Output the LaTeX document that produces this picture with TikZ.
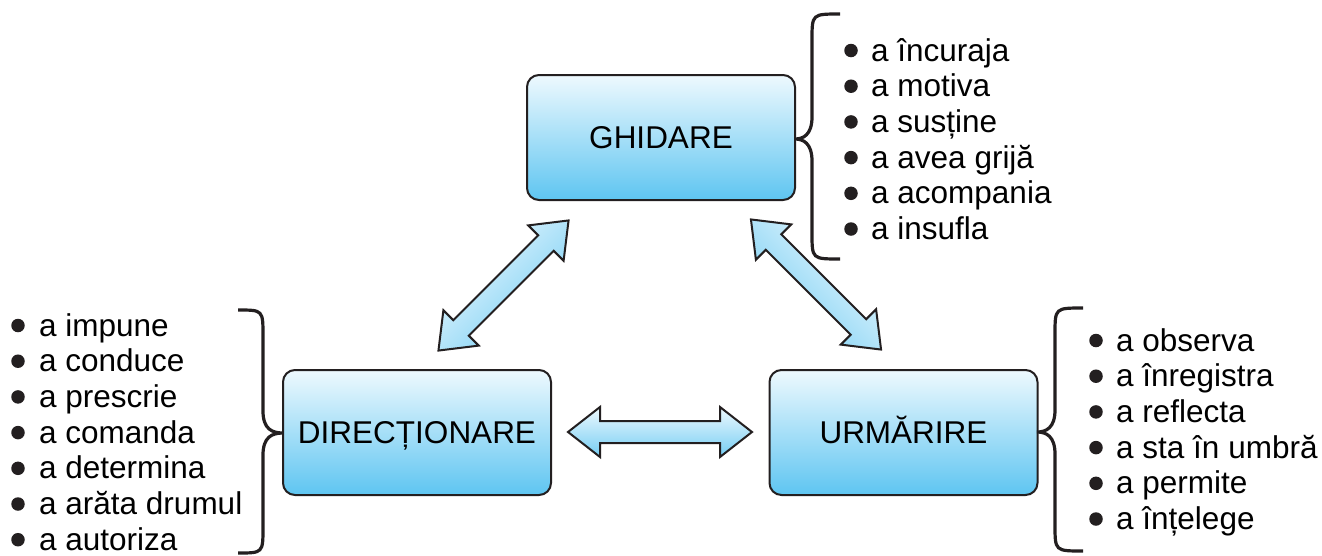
\documentclass[tikz,border=0pt]{standalone}
\usepackage{fontspec}
\setmainfont{Liberation Sans}
\usetikzlibrary{calc}

\definecolor{ink}{HTML}{231F20}
\definecolor{paleblue}{HTML}{EEF9FE}
\definecolor{skyblue}{HTML}{5EC5F1}
\definecolor{arrowblue}{HTML}{74CDF3}

\tikzset{
  labelfont/.style={font=\fontsize{31.5}{36}\selectfont},
  role/.style={labelfont, draw=ink, line width=2pt, rounded corners=12pt,
    minimum width=268pt, minimum height=125pt, inner sep=0pt,
    text height=22.5pt, text depth=0pt,
    top color=paleblue, bottom color=skyblue},
  item/.style={labelfont, anchor=base west, inner sep=0pt},
  dot/.style={circle, fill=ink, draw=none, minimum size=13.5pt, inner sep=0pt},
  brace/.style={draw=ink, line width=3.2pt},
  blockarrow/.style={draw=ink, line width=2pt, line join=miter,
    top color=paleblue, bottom color=arrowblue}
}

% double-headed block arrow: #1 centre, #2 direction, #3 shading angle
\newcommand\twoway[3]{%
  \path[blockarrow, shading angle=#3]
    ($(#1)+(#2:92)$)
    -- ($(#1)+(#2:60)+(#2+90:25)$)
    -- ($(#1)+(#2:60)+(#2+90:11)$)
    -- ($(#1)+(#2+180:60)+(#2+90:11)$)
    -- ($(#1)+(#2+180:60)+(#2+90:25)$)
    -- ($(#1)+(#2+180:92)$)
    -- ($(#1)+(#2+180:60)+(#2-90:25)$)
    -- ($(#1)+(#2+180:60)+(#2-90:11)$)
    -- ($(#1)+(#2:60)+(#2-90:11)$)
    -- ($(#1)+(#2:60)+(#2-90:25)$)
    -- cycle;}

\begin{document}
\begin{tikzpicture}[x=1pt, y=-1pt]
\useasboundingbox (0,0) rectangle (1322,555);

% the three roles
\node[role] (ghid) at (661,137.5) {GHIDARE};
\node[role] (dir)  at (417,432.5) {DIRECȚIONARE};
\node[role] (urm)  at (903.5,432.5) {URMĂRIRE};

% two-way arrows between the roles
\coordinate (dg) at (503.5,285.5);
\coordinate (gu) at (816,284.5);
\coordinate (du) at (660,432);
\twoway{dg}{-45}{45}
\twoway{gu}{45}{-45}
\twoway{du}{0}{0}

% braces gathering the verbs of each role
\draw[brace] (840,14) .. controls (812,14) .. (812,40) -- (812,117)
  .. controls (812,135) and (803,139) .. (795,139)
  .. controls (803,139) and (812,143) .. (812,161) -- (812,233)
  .. controls (812,259) .. (840,259);
\draw[brace] (238,310) .. controls (263,310) .. (263,336) -- (263,411)
  .. controls (263,429) and (272,433) .. (283,433)
  .. controls (272,433) and (263,437) .. (263,455) -- (263,527)
  .. controls (263,553) .. (238,553);
\draw[brace] (1083,308) .. controls (1055,308) .. (1055,334) -- (1055,410)
  .. controls (1055,428) and (1046,432) .. (1037,432)
  .. controls (1046,432) and (1055,436) .. (1055,454) -- (1055,525)
  .. controls (1055,551) .. (1083,551);

% verb lists
\foreach \t [count=\i] in {a încuraja, a motiva, a susține, a avea grijă, a acompania, a insufla}{
  \node[dot] (gb\i) at (851,{61+35.7*(\i-1)-10.5}) {};
  \node[item] (gl\i) at (871,{61+35.7*(\i-1)}) {\t};
}
\foreach \t [count=\i] in {a impune, a conduce, a prescrie, a comanda, a determina, a arăta drumul, a autoriza}{
  \node[dot] (db\i) at (18,{336+35.7*(\i-1)-10.5}) {};
  \node[item] (dl\i) at (39,{336+35.7*(\i-1)}) {\t};
}
\foreach \t [count=\i] in {a observa, a înregistra, a reflecta, a sta în umbră, a permite, a înțelege}{
  \node[dot] (ub\i) at (1096,{351+35.7*(\i-1)-10.5}) {};
  \node[item] (ul\i) at (1116,{351+35.7*(\i-1)}) {\t};
}
\end{tikzpicture}
\end{document}
